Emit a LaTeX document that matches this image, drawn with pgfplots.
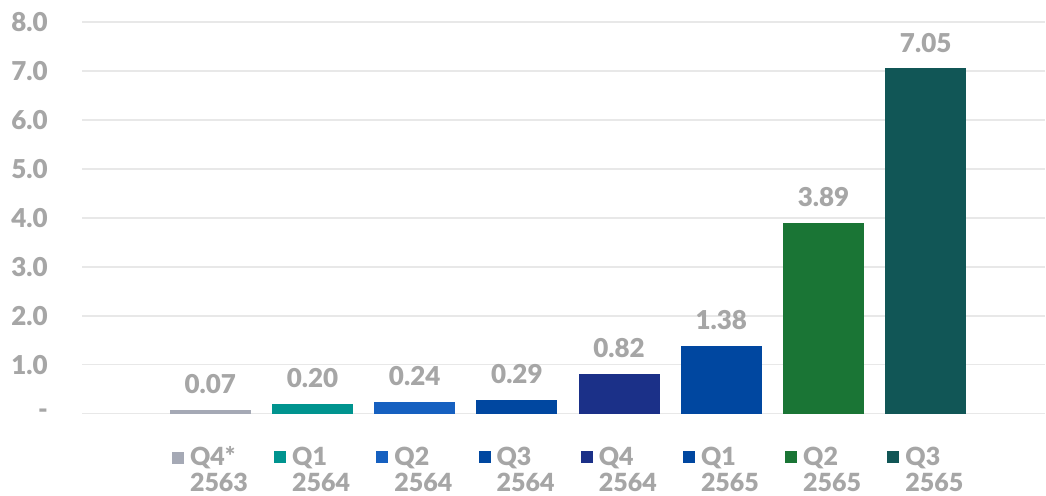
\documentclass[border=0pt]{standalone}
\usepackage{pgfplots}
\pgfplotsset{compat=1.18}
\usepackage{fontspec}
\setmainfont{Lato}[BoldFont={Lato Black}]
\usetikzlibrary{calc}

\definecolor{txt}{HTML}{A6A6A6}
\definecolor{gridc}{HTML}{E8E8E8}
\definecolor{c0}{HTML}{A5A9B5}
\definecolor{c1}{HTML}{00948F}
\definecolor{c2}{HTML}{1660C0}
\definecolor{c3}{HTML}{0047A0}
\definecolor{c4}{HTML}{1B3088}
\definecolor{c5}{HTML}{0047A0}
\definecolor{c6}{HTML}{1A7535}
\definecolor{c7}{HTML}{115656}

% colored square + quarter, year on next line
\newcommand{\lab}[3]{\textcolor{#1}{\rule[2bp]{12bp}{12bp}}\hspace{6bp}#2\\\hspace*{18bp}#3}
\newcommand{\bigfont}{\fontsize{26bp}{28bp}\selectfont\bfseries}

\begin{document}
\begin{tikzpicture}
\begin{axis}[
  scale only axis, width=964bp, height=392bp,
  xmin=-1.256, xmax=8.17, ymin=0, ymax=8,
  axis line style={draw=none},
  major tick length=0pt,
  ytick={0,1,2,3,4,5,6,7,8},
  yticklabels={-\hspace{7bp},1.0,2.0,3.0,4.0,5.0,6.0,7.0,8.0},
  ymajorgrids, grid style={draw=gridc, line width=1.5bp},
  xtick={0,1,2,3,4,5,6,7},
  xticklabels={
    {\lab{c0}{Q4*}{2563}},
    {\lab{c1}{Q1}{2564}},
    {\lab{c2}{Q2}{2564}},
    {\lab{c3}{Q3}{2564}},
    {\lab{c4}{Q4}{2564}},
    {\lab{c5}{Q1}{2565}},
    {\lab{c6}{Q2}{2565}},
    {\lab{c7}{Q3}{2565}}},
  xticklabel style={anchor=north west, align=left, inner sep=0pt,
    xshift=-38.5bp, yshift=-33bp,
    font=\fontsize{25bp}{26bp}\selectfont\bfseries, text=txt},
  yticklabel style={anchor=east, inner sep=0pt, xshift=-34bp,
    font=\bigfont, text=txt},
  ybar, bar width=81bp, bar shift=0pt,
  nodes near coords,
  every node near coord/.append style={font=\bigfont, text=txt,
    inner sep=0pt, anchor=south, yshift=16bp},
  /pgf/number format/.cd, fixed, fixed zerofill, precision=2, assume math mode=true,
]
\addplot[fill=c0, draw=none] coordinates {(0,0.07)};
\addplot[fill=c1, draw=none] coordinates {(1,0.20)};
\addplot[fill=c2, draw=none] coordinates {(2,0.24)};
\addplot[fill=c3, draw=none] coordinates {(3,0.29)};
\addplot[fill=c4, draw=none] coordinates {(4,0.82)};
\addplot[fill=c5, draw=none] coordinates {(5,1.38)};
\addplot[fill=c6, draw=none] coordinates {(6,3.89)};
\addplot[fill=c7, draw=none] coordinates {(7,7.05)};
\coordinate (bl) at (rel axis cs:0,0);
\coordinate (tr) at (rel axis cs:1,1);
\end{axis}
\path ($(bl)+(-82bp,-82bp)$) rectangle ($(tr)+(0,22bp)$);
\end{tikzpicture}
\end{document}
